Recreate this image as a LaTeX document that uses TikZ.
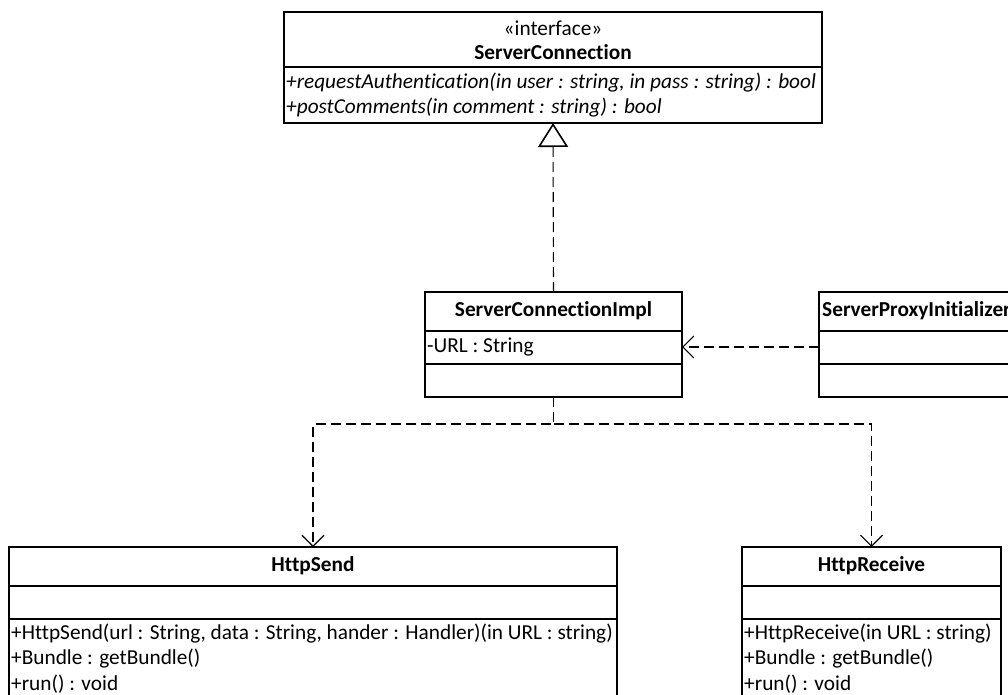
\documentclass[tikz,border=0pt]{standalone}
\usepackage{fontspec}
\setmainfont[Ligatures=NoCommon]{Carlito}
\usetikzlibrary{arrows.meta}
\begin{document}
\begin{tikzpicture}[x=1pt,y=-1pt,
  font=\fontsize{21.3}{25}\selectfont,
  classbox/.style={draw, line width=1.8pt, inner sep=0pt, outer sep=0pt, anchor=north west},
  sep/.style={line width=1.8pt},
  title/.style={font=\fontsize{21.3}{25}\selectfont\bfseries, inner sep=0pt},
  member/.style={anchor=west, inner sep=0pt},
  opit/.style={member, font=\fontsize{21.3}{25}\selectfont\itshape},
  dep/.style={line width=1.1pt, dash pattern=on 10pt off 5pt,
    -{Straight Barb[length=11pt,width=22pt,line width=1.1pt]}},
  realize/.style={line width=1.1pt, dash pattern=on 10pt off 5pt,
    -{Triangle[open,length=24pt,width=30pt,line width=1.6pt,fill=white]}}
]
\useasboundingbox (0,0) rectangle (1008,695);
\clip (0,0) rectangle (1008,695);

% interface ServerConnection
\node[classbox, minimum width=538pt, minimum height=111pt] (sc) at (284,12) {};
\draw[sep] (284,67) -- (822,67);
\node[inner sep=0pt] (scst) at (553,28) {«interface»};
\node[title] (scname) at (553,52) {ServerConnection};
\node[opit] (scop1) at (286,83) {+requestAuthentication(in user : string, in pass : string) : bool};
\node[opit] (scop2) at (286,108) {+postComments(in comment : string) : bool};

% ServerConnectionImpl
\node[classbox, minimum width=257pt, minimum height=105pt] (impl) at (425,292) {};
\draw[sep] (425,331) -- (682,331);
\draw[sep] (425,364) -- (682,364);
\node[title] (implname) at (553.5,311) {ServerConnectionImpl};
\node[member] (implattr) at (427,347) {-URL : String};

% ServerProxyInitializer (runs past the right edge)
\node[classbox, minimum width=257pt, minimum height=105pt] (proxy) at (819,292) {};
\draw[sep] (819,331) -- (1076,331);
\draw[sep] (819,364) -- (1076,364);
\node[title, anchor=west] (proxyname) at (822,311) {ServerProxyInitializer};

% HttpSend
\node[classbox, minimum width=608pt, minimum height=180pt] (send) at (9,547) {};
\draw[sep] (9,586) -- (617,586);
\draw[sep] (9,619) -- (617,619);
\node[title] (sendname) at (313,566) {HttpSend};
\node[member] (sendop1) at (11,634) {+HttpSend(url : String, data : String, hander : Handler)(in URL : string)};
\node[member] (sendop2) at (11,659) {+Bundle : getBundle()};
\node[member] (sendop3) at (11,684) {+run() : void};

% HttpReceive
\node[classbox, minimum width=259pt, minimum height=180pt] (recv) at (742,547) {};
\draw[sep] (742,586) -- (1001,586);
\draw[sep] (742,619) -- (1001,619);
\node[title] (recvname) at (871.5,566) {HttpReceive};
\node[member] (recvop1) at (744,634) {+HttpReceive(in URL : string)};
\node[member] (recvop2) at (744,659) {+Bundle : getBundle()};
\node[member] (recvop3) at (744,684) {+run() : void};

% connectors
\draw[realize] (impl.north) -- (sc.south);
\draw[dep] (proxy.west |- implattr) -- (impl.east |- implattr);
\coordinate (fork) at (553.5,424);
\draw[dep] (impl.south) -- (fork) -| (send.north);
\draw[dep] (fork) -| (recv.north);
\end{tikzpicture}
\end{document}
